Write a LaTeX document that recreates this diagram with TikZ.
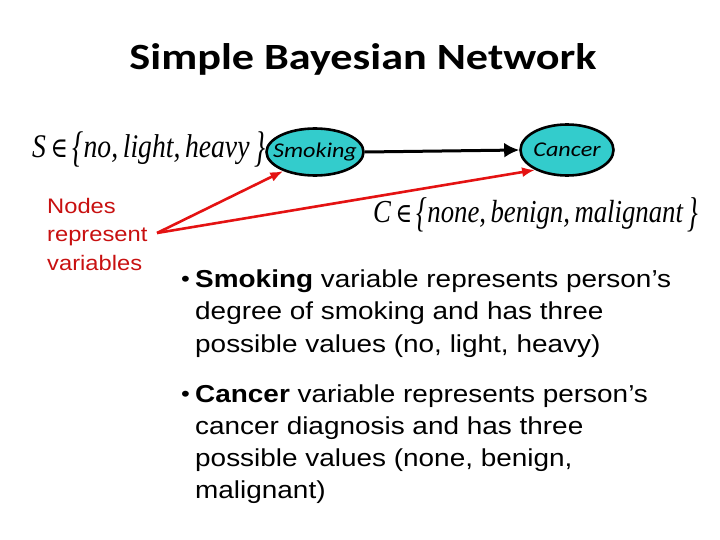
\documentclass[tikz,border=0pt]{standalone}
\usepackage{fontspec}
\usepackage{graphicx}
\usetikzlibrary{arrows.meta,shapes.geometric}
\setmainfont{Liberation Sans}[FakeStretch=1.13]
\newfontfamily\bodyfont{Liberation Sans}[FakeStretch=1.14]
\newfontfamily\titlefont{Carlito}[FakeStretch=1.19]
\newfontfamily\ellfont{Carlito}[FakeStretch=1.15]
\newfontfamily\mathfnt{Liberation Serif}
\newfontfamily\symfnt{DejaVu Serif}
\definecolor{turq}{RGB}{51,204,204}
\definecolor{annred}{RGB}{200,16,16}
\definecolor{arrred}{RGB}{228,18,18}
\newcommand{\lbr}{\raisebox{-0.12em}{\scalebox{1}[1.3]{\{}}}
\newcommand{\rbr}{\raisebox{-0.12em}{\scalebox{1}[1.3]{\}}}}
\tikzset{
  varnode/.style={ellipse, draw=black, line width=2.6pt, fill=turq, inner xsep=-9pt, inner ysep=-3pt,
    font=\ellfont\itshape\fontsize{21}{24}\selectfont},
  bodytext/.style={anchor=base west, align=left, inner sep=0pt},
  bulletdot/.style={anchor=base east, inner sep=0pt, font=\bodyfont\fontsize{22}{24}\selectfont},
  redarrow/.style={draw=arrred, line width=2.6pt, -{Latex[length=13pt,width=10pt]}},
  blackarrow/.style={draw=black, line width=3pt, -{Latex[length=15pt,width=15pt]}},
}
\begin{document}
\begin{tikzpicture}[x=1pt,y=-1pt]
\useasboundingbox (0,0) rectangle (720,540);
% title
\node[anchor=base, inner sep=0pt] (title) at (363,70)
  {\resizebox{467pt}{\height}{\titlefont\bfseries\fontsize{37}{40}\selectfont Simple Bayesian Network}};
% nodes
\node[varnode, minimum width=97pt, minimum height=47pt] (smk) at (315,152) {Smoking};
\node[varnode, minimum width=93pt, minimum height=51pt] (cnc) at (567,150) {Cancer};
\draw[blackarrow] (smk.east) -- (cnc.west);
% domain labels
\node[anchor=base west, inner sep=0pt] (sdom) at (32,158)
  {\resizebox{233pt}{\height}{\fontsize{33}{36}\selectfont\mathfnt\itshape S\,{\upshape\symfnt\fontsize{28}{30}\selectfont ∈}\,\lbr no,\,light,\,heavy\,\rbr}};
\node[anchor=base west, inner sep=0pt] (cdom) at (373,223)
  {\resizebox{325pt}{\height}{\fontsize{32}{36}\selectfont\mathfnt\itshape C\,{\upshape\symfnt\fontsize{27}{30}\selectfont ∈}\,\lbr none,\,benign,\,malignant\,\rbr}};
% annotation
\node[bodytext, text=annred, font=\fontsize{21}{28.5}\selectfont] (ann) at (47,270)
  {Nodes\\represent\\variables};
\coordinate (annpt) at (157,233);
\draw[redarrow] (annpt) -- (smk.211);
\draw[redarrow] (annpt) -- (cnc.212);
% bullets
\node[bodytext, font=\bodyfont\fontsize{24.5}{32.5}\selectfont] (b1) at (195,352)
  {\textbf{Smoking} variable represents person’s\\degree of smoking and has three\\possible values (no, light, heavy)};
\node[bulletdot] (d1) at (190,286) {•};
\node[bodytext, font=\bodyfont\fontsize{24.5}{32}\selectfont] (b2) at (195,498)
  {\textbf{Cancer} variable represents person’s\\cancer diagnosis and has three\\possible values (none, benign,\\malignant)};
\node[bulletdot] (d2) at (190,401) {•};
\end{tikzpicture}
\end{document}
